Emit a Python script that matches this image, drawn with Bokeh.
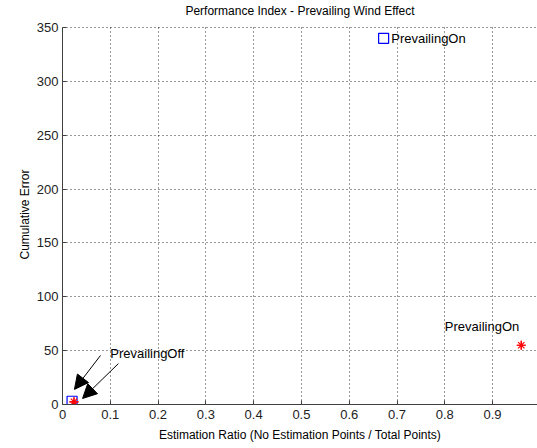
from bokeh.plotting import figure
from bokeh.models import Range1d, Label, Arrow, NormalHead, FixedTicker, Title
from bokeh.embed import file_html
from bokeh.resources import INLINE

# Data
square_x = [0.672, 0.020]
square_y = [340, 3]
star_x = [0.960, 0.024]
star_y = [55, 2.5]
x_ticks = [0, 0.1, 0.2, 0.3, 0.4, 0.5, 0.6, 0.7, 0.8, 0.9]
y_ticks = [0, 50, 100, 150, 200, 250, 300, 350]
title_text = "Performance Index - Prevailing Wind Effect"
x_label = "Estimation Ratio (No Estimation Points / Total Points)"
y_label = "Cumulative Error"

FONT = "Liberation Sans"
Y_TOP = 350
Y_VIEW = 375.07  # extra headroom so the title fits inside the frame

p = figure(width=537, height=448, output_backend="svg", toolbar_location=None,
           x_range=Range1d(0, 0.994), y_range=Range1d(0, Y_VIEW),
           min_border_left=62, min_border_right=0, min_border_top=0, min_border_bottom=44)
p.outline_line_color = None
p.background_fill_color = "white"
p.border_fill_color = "white"

for ax in (p.xaxis[0], p.yaxis[0]):
    ax.axis_line_color = "#404040"
    ax.major_tick_line_color = "#404040"
    ax.major_tick_in = 4
    ax.major_tick_out = 0
    ax.minor_tick_line_color = None
    ax.major_label_text_font = FONT
    ax.major_label_text_font_size = "13px"
    ax.major_label_text_color = "#222222"
    ax.axis_label_text_font = FONT
    ax.axis_label_text_font_size = "12px"
    ax.axis_label_text_font_style = "normal"
    ax.axis_label_text_color = "black"

p.yaxis.bounds = (0, Y_TOP)
p.xaxis.ticker = FixedTicker(ticks=x_ticks)
p.yaxis.ticker = FixedTicker(ticks=y_ticks)
p.xaxis.axis_label = x_label
p.xaxis.major_label_standoff = 5
p.yaxis.major_label_standoff = 4
p.xaxis.axis_label_standoff = 6

# y-axis label as a left-side title, shifted to sit centred on 0..350
p.add_layout(Title(text=y_label, align="left", offset=145, standoff=4,
                   text_font=FONT, text_font_size="12px",
                   text_font_style="normal", text_color="black"), "left")

p.grid.grid_line_color = "black"
p.grid.grid_line_dash = "1 3"
p.grid.grid_line_alpha = 0.8
p.xgrid.cross_bounds = (0, Y_TOP)

p.scatter(square_x, square_y, marker="square", size=10, fill_color=None,
          line_color="blue", line_width=1.2)
p.scatter(star_x, star_y, marker="asterisk", size=9, line_color="red", line_width=1.2)
p.scatter(star_x, star_y, marker="cross", size=9, line_color="red", line_width=1.2)

p.add_layout(Label(x=0.497, y=365, text=title_text, text_font=FONT,
                   text_font_size="12px", text_color="black",
                   text_align="center", text_baseline="middle"))

lab_kw = dict(text_font=FONT, text_font_size="13px", text_color="black",
              text_baseline="middle")
p.add_layout(Label(x=0.688, y=340, text="PrevailingOn", **lab_kw))
p.add_layout(Label(x=0.800, y=72, text="PrevailingOn", **lab_kw))
p.add_layout(Label(x=0.100, y=47, text="PrevailingOff", **lab_kw))

for (xs, ys, xe, ye) in [(0.0795, 45.5, 0.025, 14), (0.117, 38, 0.042, 5.6)]:
    p.add_layout(Arrow(x_start=xs, y_start=ys, x_end=xe, y_end=ye,
                       line_color="black", line_width=1,
                       end=NormalHead(size=14, fill_color="black", line_color="black")))

open("out.html", "w").write(file_html(p, INLINE))
